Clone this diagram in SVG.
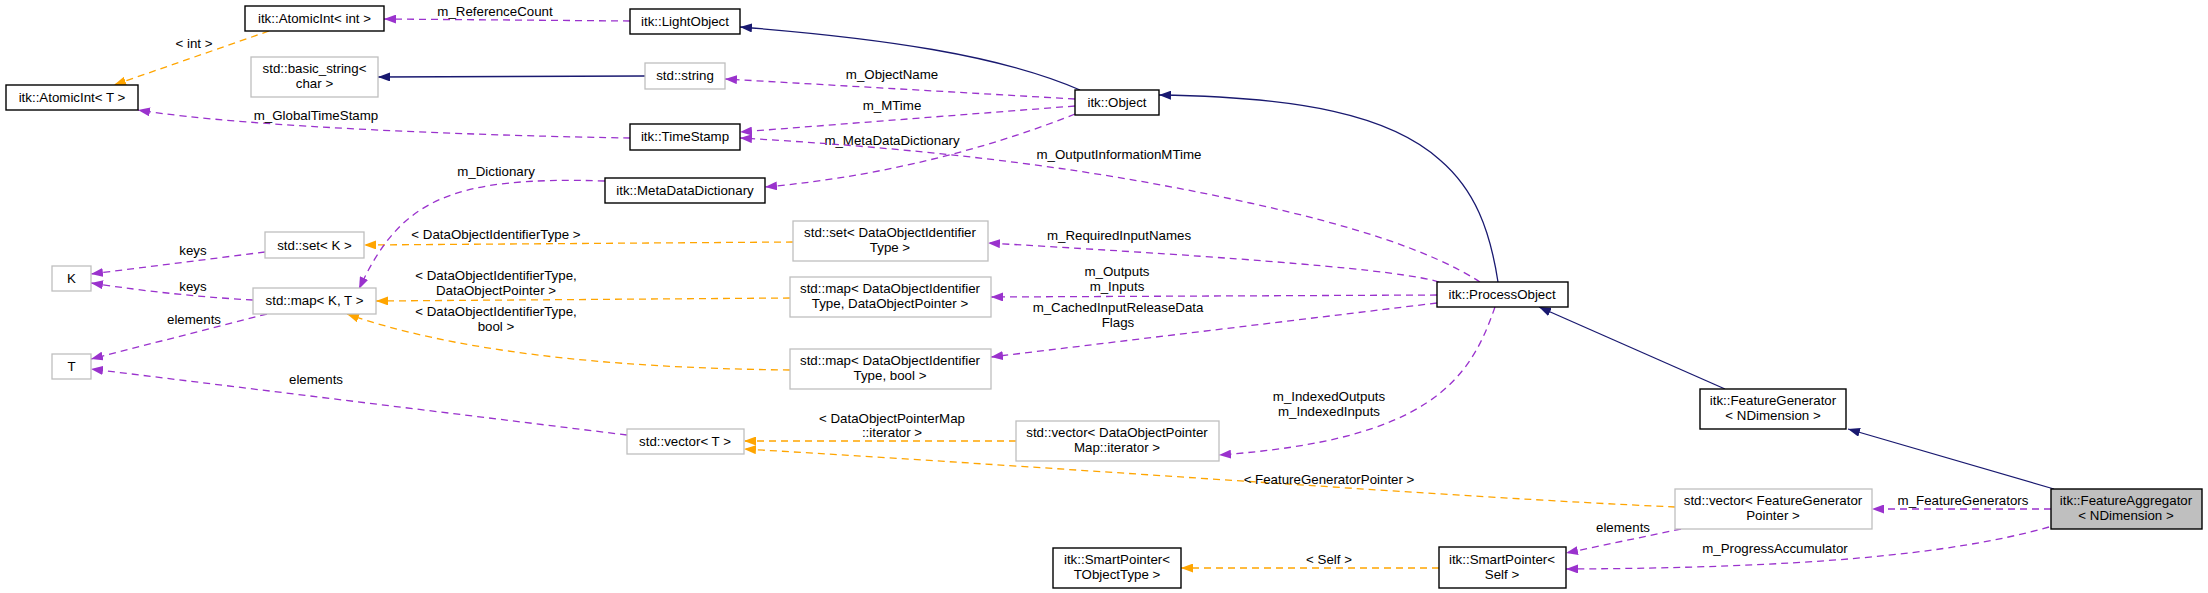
<svg xmlns="http://www.w3.org/2000/svg" width="2208" height="593" viewBox="0 0 2208 593">
<style>
text{font-family:"Liberation Sans",Arial,sans-serif;font-size:13.3px;fill:#000;text-anchor:middle}
.nb{fill:#fff;stroke:#000;stroke-width:1.4}
.ng{fill:#fff;stroke:#bfbfbf;stroke-width:1.3}
.nf{fill:#bfbfbf;stroke:#000;stroke-width:1.4}
.p{fill:none;stroke:#9a32cd;stroke-width:1.3;stroke-dasharray:7,5;marker-end:url(#mp)}
.o{fill:none;stroke:#ffa500;stroke-width:1.3;stroke-dasharray:7,5;marker-end:url(#mo)}
.n{fill:none;stroke:#191970;stroke-width:1.3;marker-end:url(#mn)}
</style>
<defs>
<marker id="mp" markerWidth="12" markerHeight="9" refX="12" refY="4.5" orient="auto" markerUnits="userSpaceOnUse"><path d="M0,0 L12,4.5 L0,9 z" fill="#9a32cd"/></marker>
<marker id="mo" markerWidth="12" markerHeight="9" refX="12" refY="4.5" orient="auto" markerUnits="userSpaceOnUse"><path d="M0,0 L12,4.5 L0,9 z" fill="#ffa500"/></marker>
<marker id="mn" markerWidth="12" markerHeight="9" refX="12" refY="4.5" orient="auto" markerUnits="userSpaceOnUse"><path d="M0,0 L12,4.5 L0,9 z" fill="#191970"/></marker>
</defs>
<rect width="2208" height="593" fill="#fff"/>
<g id="edges">
<path class="p" d="M630,21 L384,19"/><text x="495" y="16">m_ReferenceCount</text>
<path class="o" d="M269,31 L114,85"/><text x="194" y="48">&lt; int &gt;</text>
<path class="n" d="M645,76 L378,77"/>
<path class="p" d="M630,138 C500,136 250,128 138,110"/><text x="316" y="120">m_GlobalTimeStamp</text>
<path class="n" d="M1080,90 C1000,55 880,38 740,27"/>
<path class="p" d="M1075,99 L725,79"/><text x="892" y="79">m_ObjectName</text>
<path class="p" d="M1075,106 L740,132"/><text x="892" y="110">m_MTime</text>
<path class="p" d="M1075,114 C1010,140 900,175 765,187"/><text x="892" y="145">m_MetaDataDictionary</text>
<path class="p" d="M1480,282 C1430,250 1350,225 1250,203 C1100,170 950,150 740,138"/><text x="1119" y="159">m_OutputInformationMTime</text>
<path class="n" d="M1498,282 C1490,230 1475,190 1440,160 C1390,115 1300,97 1159,95"/>
<path class="p" d="M1439,282 C1400,270 1250,258 988,243"/><text x="1119" y="240">m_RequiredInputNames</text>
<path class="p" d="M1437,295 L991,297"/><text x="1117" y="276">m_Outputs</text><text x="1117" y="291">m_Inputs</text>
<path class="p" d="M1437,303 L991,357"/><text x="1118" y="312">m_CachedInputReleaseData</text><text x="1118" y="327">Flags</text>
<path class="p" d="M1495,307 C1470,380 1430,440 1219,455"/><text x="1329" y="401">m_IndexedOutputs</text><text x="1329" y="416">m_IndexedInputs</text>
<path class="n" d="M1725,389 L1539,307"/>
<path class="n" d="M2054,489 L1848,429"/>
<path class="p" d="M2051,509 L1872,509"/><text x="1963" y="505">m_FeatureGenerators</text>
<path class="p" d="M2049,527 C1950,555 1800,568 1566,569"/><text x="1775" y="553">m_ProgressAccumulator</text>
<path class="p" d="M1681,529 L1566,553"/><text x="1623" y="532">elements</text>
<path class="o" d="M1439,568 L1181,568"/><text x="1329" y="564">&lt; Self &gt;</text>
<path class="o" d="M1675,507 C1450,497 1100,470 744,449"/><text x="1329" y="484">&lt; FeatureGeneratorPointer &gt;</text>
<path class="o" d="M1016,441 L744,441"/><text x="892" y="423">&lt; DataObjectPointerMap</text><text x="892" y="437">::iterator &gt;</text>
<path class="p" d="M627,435 L91,369"/><text x="316" y="384">elements</text>
<path class="p" d="M267,314 L91,359"/><text x="194" y="324">elements</text>
<path class="p" d="M253,300 C200,297 150,292 91,283"/><text x="193" y="291">keys</text>
<path class="p" d="M265,252 L91,274"/><text x="193" y="255">keys</text>
<path class="o" d="M793,242 L364,245"/><text x="496" y="239">&lt; DataObjectIdentifierType &gt;</text>
<path class="o" d="M790,298 L376,301"/><text x="496" y="280">&lt; DataObjectIdentifierType,</text><text x="496" y="295">DataObjectPointer &gt;</text>
<path class="o" d="M790,370 C600,368 450,350 347,314"/><text x="496" y="316">&lt; DataObjectIdentifierType,</text><text x="496" y="331">bool &gt;</text>
<path class="p" d="M605,181 C450,176 400,200 359,289"/><text x="496" y="176">m_Dictionary</text>
</g>
<g id="n1"><rect class="nb" x="245" y="6" width="139" height="25"/><text x="314.5" y="23">itk::AtomicInt&lt; int &gt;</text></g>
<g id="n2"><rect class="nb" x="630" y="9" width="110" height="25"/><text x="685" y="26">itk::LightObject</text></g>
<g id="n3"><rect class="nb" x="6" y="85" width="132" height="25"/><text x="72" y="102">itk::AtomicInt&lt; T &gt;</text></g>
<g id="n4"><rect class="ng" x="251" y="57" width="127" height="40"/><text x="314.5" y="73">std::basic_string&lt;</text><text x="314.5" y="88">char &gt;</text></g>
<g id="n5"><rect class="ng" x="645" y="63" width="80" height="26"/><text x="685" y="80">std::string</text></g>
<g id="n6"><rect class="nb" x="630" y="124" width="110" height="26"/><text x="685" y="141">itk::TimeStamp</text></g>
<g id="n7"><rect class="nb" x="605" y="178" width="160" height="25"/><text x="685" y="195">itk::MetaDataDictionary</text></g>
<g id="n8"><rect class="nb" x="1075" y="90" width="84" height="25"/><text x="1117" y="107">itk::Object</text></g>
<g id="n9"><rect class="ng" x="265" y="232" width="99" height="26"/><text x="314.5" y="249.5">std::set&lt; K &gt;</text></g>
<g id="n10"><rect class="ng" x="52" y="266" width="39" height="25"/><text x="71.5" y="283">K</text></g>
<g id="n11"><rect class="ng" x="253" y="288" width="123" height="26"/><text x="314.5" y="305">std::map&lt; K, T &gt;</text></g>
<g id="n12"><rect class="ng" x="52" y="354" width="39" height="25"/><text x="71.5" y="371">T</text></g>
<g id="n13"><rect class="ng" x="627" y="429" width="117" height="25"/><text x="685" y="446">std::vector&lt; T &gt;</text></g>
<g id="n14"><rect class="ng" x="793" y="221" width="195" height="40"/><text x="890" y="237">std::set&lt; DataObjectIdentifier</text><text x="890" y="252">Type &gt;</text></g>
<g id="n15"><rect class="ng" x="790" y="277" width="201" height="40"/><text x="890" y="293">std::map&lt; DataObjectIdentifier</text><text x="890" y="308">Type, DataObjectPointer &gt;</text></g>
<g id="n16"><rect class="ng" x="790" y="349" width="201" height="40"/><text x="890" y="365">std::map&lt; DataObjectIdentifier</text><text x="890" y="380">Type, bool &gt;</text></g>
<g id="n17"><rect class="ng" x="1016" y="421" width="203" height="40"/><text x="1117" y="437">std::vector&lt; DataObjectPointer</text><text x="1117" y="452">Map::iterator &gt;</text></g>
<g id="n18"><rect class="nb" x="1053" y="548" width="128" height="40"/><text x="1117" y="564">itk::SmartPointer&lt;</text><text x="1117" y="579">TObjectType &gt;</text></g>
<g id="n19"><rect class="nb" x="1437" y="282" width="131" height="25"/><text x="1502" y="299">itk::ProcessObject</text></g>
<g id="n20"><rect class="nb" x="1700" y="389" width="146" height="40"/><text x="1773" y="405">itk::FeatureGenerator</text><text x="1773" y="420">&lt; NDimension &gt;</text></g>
<g id="n21"><rect class="ng" x="1675" y="489" width="197" height="40"/><text x="1773" y="505">std::vector&lt; FeatureGenerator</text><text x="1773" y="520">Pointer &gt;</text></g>
<g id="n22"><rect class="nb" x="1439" y="547" width="127" height="41"/><text x="1502" y="564">itk::SmartPointer&lt;</text><text x="1502" y="579">Self &gt;</text></g>
<g id="n23"><rect class="nf" x="2051" y="489" width="151" height="40"/><text x="2126" y="505">itk::FeatureAggregator</text><text x="2126" y="520">&lt; NDimension &gt;</text></g>
</svg>
